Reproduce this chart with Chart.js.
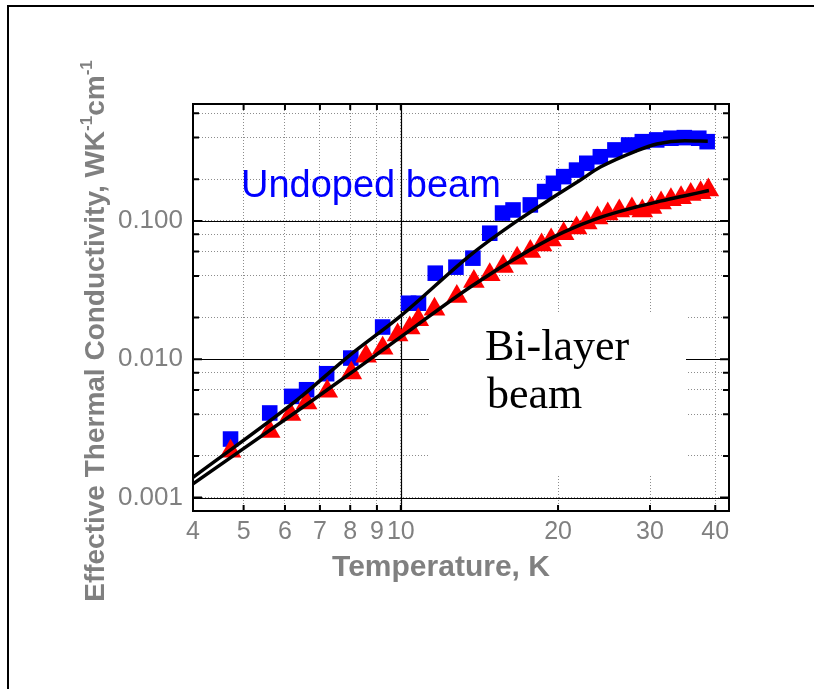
<!DOCTYPE html>
<html>
<head>
<meta charset="utf-8">
<script src="https://cdn.jsdelivr.net/npm/chart.js@4.4.0/dist/chart.umd.min.js"></script>
<style>
  html, body { margin: 0; padding: 0; background: #fff; }
  #wrap { width: 814px; height: 689px; position: relative; }
</style>
</head>
<body>
<div id="wrap"><canvas id="chart" width="814" height="689"></canvas></div>
<script>
// measured points, temperature in K, conductivity in W/(K cm)
const undopedT = [4.72, 5.61, 6.18, 6.60, 7.21, 8.02, 9.23, 10.35, 10.81, 11.64, 12.75, 13.74, 14.8, 15.66, 16.4, 17.7, 18.85, 19.6, 20.5, 21.7, 22.7, 24.1, 25.7, 27.3, 29.0, 30.9, 32.9, 34.9, 37.2, 38.6];
const undopedK = [0.00265, 0.00409, 0.00539, 0.00602, 0.00786, 0.0102, 0.0171, 0.0254, 0.0254, 0.0419, 0.0463, 0.0538, 0.0815, 0.114, 0.12, 0.1305, 0.163, 0.187, 0.209, 0.233, 0.261, 0.291, 0.326, 0.354, 0.374, 0.385, 0.396, 0.40, 0.396, 0.374];

const bilayerT = [4.72, 5.61, 6.15, 6.60, 7.23, 8.04, 8.58, 9.23, 9.86, 10.4, 10.8, 11.6, 12.8, 13.8, 14.8, 15.7, 16.7, 17.7, 18.6, 19.4, 20.5, 21.7, 22.7, 23.8, 24.9, 26.2, 27.7, 29.0, 30.2, 31.5, 32.9, 34.4, 35.9, 37.5, 38.8];
const bilayerK = [0.00216, 0.00301, 0.00398, 0.00483, 0.00586, 0.00795, 0.0105, 0.012, 0.015, 0.0168, 0.0193, 0.023, 0.0284, 0.0365, 0.0408, 0.0468, 0.0538, 0.06, 0.0671, 0.0729, 0.0806, 0.089, 0.0967, 0.105, 0.112, 0.118, 0.122, 0.118, 0.125, 0.135, 0.142, 0.147, 0.155, 0.16, 0.167];

// fitted curves
const undopedFitT = [4, 6.34, 7.94, 9.97, 13.7, 16.7, 19.4, 22, 24.1, 28.2, 30.9, 35, 38.7];
const undopedFitK = [0.0014, 0.0051, 0.0105, 0.0204, 0.058, 0.1, 0.145, 0.196, 0.245, 0.32, 0.36, 0.38, 0.377];
const bilayerFitT = [4, 6.8, 8.5, 10, 13.7, 17.7, 20.5, 24.1, 28.2, 30.9, 35, 38.9];
const bilayerFitK = [0.001256, 0.0051, 0.0093, 0.0145, 0.034, 0.062, 0.083, 0.106, 0.126, 0.137, 0.152, 0.166];

const xTicks = [4, 5, 6, 7, 8, 9, 10, 20, 30, 40];
const yTicks = [0.001, 0.002, 0.004, 0.006, 0.008, 0.01, 0.02, 0.04, 0.06, 0.08, 0.1, 0.2, 0.4, 0.6];
const yMajor = [0.001, 0.01, 0.1];
const xMajor = [10];

const pts = ( xs, ys ) => xs.map( ( x, i ) => ( { x: x, y: ys[ i ] } ) );
const GRAY = '#808080';
const SANS = '"Liberation Sans", Arial, sans-serif';

const decor = {
	id: 'decor',
	beforeDatasetsDraw( chart ) {
		const { ctx, chartArea: a, scales: { x, y } } = chart;
		ctx.save();
		// solid lines at the decades
		ctx.strokeStyle = '#000';
		ctx.lineWidth = 1.2;
		ctx.beginPath();
		yMajor.forEach( v => {
			const py = Math.round( y.getPixelForValue( v ) ) + 0.5;
			ctx.moveTo( a.left, py ); ctx.lineTo( a.right, py );
		} );
		xMajor.forEach( v => {
			const px = Math.round( x.getPixelForValue( v ) ) + 0.5;
			ctx.moveTo( px, a.top ); ctx.lineTo( px, a.bottom );
		} );
		ctx.stroke();

		// white label box
		ctx.fillStyle = '#fff';
		ctx.fillRect( 429, 312, 257, 164 );
		ctx.fillStyle = '#000';
		ctx.font = '44px "Liberation Serif", "Times New Roman", serif';
		ctx.textBaseline = 'alphabetic';
		ctx.fillText( 'Bi-layer', 485, 360 );
		ctx.fillText( 'beam', 487, 408 );

		ctx.fillStyle = '#0000ff';
		ctx.font = '38px ' + SANS;
		ctx.fillText( 'Undoped beam', 241, 197 );
		ctx.restore();
	},
	afterDraw( chart ) {
		const { ctx, chartArea: a, scales: { x, y } } = chart;
		ctx.save();
		// inward ticks
		ctx.strokeStyle = '#000';
		ctx.lineWidth = 2;
		ctx.beginPath();
		yTicks.forEach( v => {
			const py = y.getPixelForValue( v );
			const len = yMajor.includes( v ) ? 9 : 6;
			ctx.moveTo( a.left, py ); ctx.lineTo( a.left + len, py );
			ctx.moveTo( a.right, py ); ctx.lineTo( a.right - len, py );
		} );
		xTicks.forEach( v => {
			const px = x.getPixelForValue( v );
			ctx.moveTo( px, a.top ); ctx.lineTo( px, a.top + 6 );
			ctx.moveTo( px, a.bottom ); ctx.lineTo( px, a.bottom - 6 );
		} );
		ctx.stroke();
		// plot frame
		ctx.strokeRect( a.left, a.top, a.right - a.left, a.bottom - a.top );
		// outer frame, only its left and top edges fall in the picture
		ctx.beginPath();
		ctx.moveTo( 8, 689 ); ctx.lineTo( 8, 6 ); ctx.lineTo( 814, 6 );
		ctx.stroke();

		// axis titles
		ctx.fillStyle = GRAY;
		ctx.font = 'bold 30px ' + SANS;
		ctx.textAlign = 'center';
		ctx.textBaseline = 'alphabetic';
		ctx.fillText( 'Temperature, K', 441, 576 );

		ctx.translate( 104, 331 );
		ctx.rotate( -Math.PI / 2 );
		const parts = [ [ 'Effective Thermal Conductivity, WK', 0 ], [ '-1', 1 ], [ 'cm', 0 ], [ '-1', 1 ] ];
		const big = 'bold 28px ' + SANS, small = 'bold 17px ' + SANS;
		let total = 0;
		parts.forEach( p => { ctx.font = p[ 1 ] ? small : big; total += ctx.measureText( p[ 0 ] ).width; } );
		let cx = -total / 2;
		ctx.textAlign = 'left';
		parts.forEach( p => {
			ctx.font = p[ 1 ] ? small : big;
			ctx.fillText( p[ 0 ], cx, p[ 1 ] ? -12 : 0 );
			cx += ctx.measureText( p[ 0 ] ).width;
		} );
		ctx.restore();
	},
};

new Chart( document.getElementById( 'chart' ), {
	type: 'scatter',
	data: {
		datasets: [
			{
				label: 'Undoped fit',
				data: pts( undopedFitT, undopedFitK ),
				showLine: true,
				borderColor: '#000',
				borderWidth: 3.5,
				pointRadius: 0,
				cubicInterpolationMode: 'monotone',
				order: 0,
			},
			{
				label: 'Bi-layer fit',
				data: pts( bilayerFitT, bilayerFitK ),
				showLine: true,
				borderColor: '#000',
				borderWidth: 3.5,
				pointRadius: 0,
				cubicInterpolationMode: 'monotone',
				order: 0,
			},
			{
				label: 'Bi-layer beam',
				data: pts( bilayerT, bilayerK ),
				pointStyle: 'triangle',
				pointRadius: 12.5,
				backgroundColor: '#ff0000',
				borderColor: '#ff0000',
				borderWidth: 0,
				order: 1,
			},
			{
				label: 'Undoped beam',
				data: pts( undopedT, undopedK ),
				pointStyle: 'rect',
				pointRadius: 11,
				backgroundColor: '#0000ff',
				borderColor: '#0000ff',
				borderWidth: 0,
				order: 2,
			},
		],
	},
	options: {
		responsive: false,
		animation: false,
		devicePixelRatio: 1,
		layout: { padding: { left: 0, right: 85, top: 104, bottom: 0 } },
		plugins: {
			legend: { display: false },
			tooltip: { enabled: false },
		},
		scales: {
			x: {
				type: 'logarithmic',
				min: 4,
				max: 42.5,
				afterBuildTicks: s => { s.ticks = xTicks.map( v => ( { value: v } ) ); },
				afterFit: s => { s.height = 178; },
				ticks: {
					autoSkip: false,
					maxRotation: 0,
					padding: 6,
					color: GRAY,
					font: { family: SANS, size: 25 },
					callback: v => String( v ),
				},
				grid: { color: '#8c8c8c', lineWidth: 1, drawTicks: false },
				border: { display: false, dash: [ 1, 2 ] },
			},
			y: {
				type: 'logarithmic',
				min: 0.0008,
				max: 0.7,
				afterBuildTicks: s => { s.ticks = yTicks.map( v => ( { value: v } ) ); },
				afterFit: s => { s.width = 193; },
				ticks: {
					autoSkip: false,
					padding: 10,
					color: GRAY,
					font: { family: SANS, size: 26 },
					callback: v => ( yMajor.includes( v ) ? v.toFixed( 3 ) : '' ),
				},
				grid: { color: '#8c8c8c', lineWidth: 1, drawTicks: false },
				border: { display: false, dash: [ 1, 2 ] },
			},
		},
	},
	plugins: [ decor ],
} );
</script>
</body>
</html>
